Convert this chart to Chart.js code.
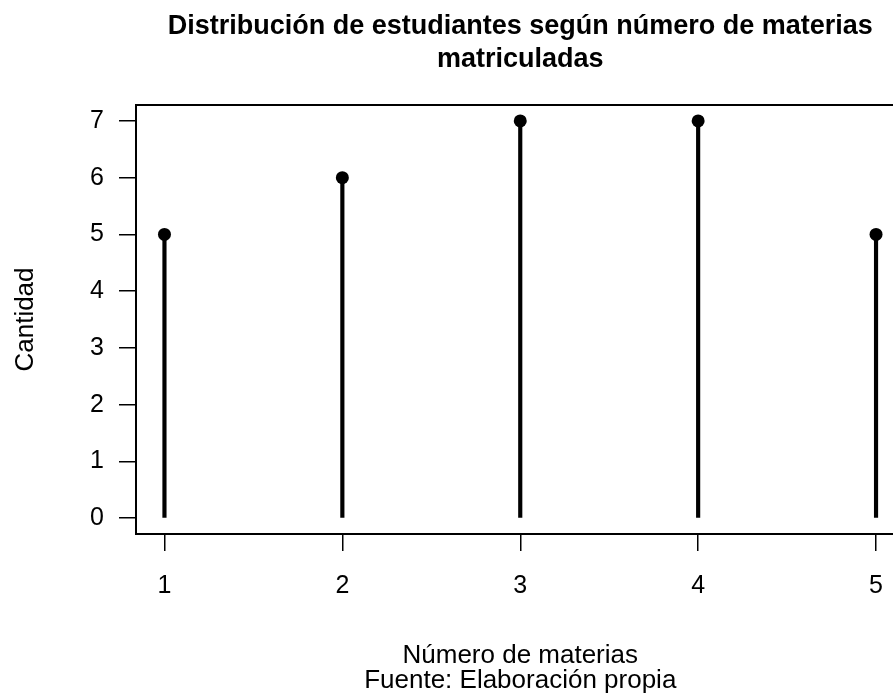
<!DOCTYPE html>
<html><head><meta charset="utf-8">
<script src="https://cdn.jsdelivr.net/npm/chart.js@4/dist/chart.umd.min.js"></script>
<style>
html,body{margin:0;padding:0;overflow:hidden;background:#fff;width:893px;height:693px}
#wrap{position:absolute;left:0;top:0;width:920px;height:693px}
</style></head>
<body><div id="wrap"><canvas id="c" width="920" height="693"></canvas></div>
<script>
const categories = [1, 2, 3, 4, 5];
const counts = [5, 6, 7, 7, 5];
const yTicks = [0, 1, 2, 3, 4, 5, 6, 7];
const xTicks = [1, 2, 3, 4, 5];
const titleLines = ['Distribución de estudiantes según número de materias', 'matriculadas'];
const xLabel = 'Número de materias';
const footer = 'Fuente: Elaboración propia';
const yLabel = 'Cantidad';

const FONT = '"Liberation Sans", Arial, Helvetica, sans-serif';

const textPlugin = {
  id: 'rtext',
  afterDraw(chart) {
    const ctx = chart.ctx, a = chart.chartArea;
    ctx.save();
    ctx.strokeStyle = '#000';
    ctx.lineWidth = 2;
    ctx.strokeRect(a.left, a.top, a.right - a.left, a.bottom - a.top);
    ctx.fillStyle = '#000';
    ctx.textAlign = 'center';
    ctx.textBaseline = 'alphabetic';
    const cx = (a.left + a.right) / 2;
    ctx.font = 'bold 27px ' + FONT;
    ctx.fillText(titleLines[0], cx, 34);
    ctx.fillText(titleLines[1], cx, 67);
    ctx.font = '26px ' + FONT;
    ctx.fillText(xLabel, cx, 663);
    ctx.fillText(footer, cx, 688);
    ctx.translate(33, (a.top + a.bottom) / 2);
    ctx.rotate(-Math.PI / 2);
    ctx.fillText(yLabel, 0, 0);
    ctx.restore();
  }
};

new Chart(document.getElementById('c'), {
  type: 'scatter',
  data: {
    datasets: [
      {
        type: 'bar',
        data: categories.map((c, i) => ({ x: c, y: counts[i] })),
        backgroundColor: '#000',
        borderWidth: 0,
        barThickness: 3.5,
        order: 2
      },
      {
        type: 'scatter',
        data: categories.map((c, i) => ({ x: c, y: counts[i] })),
        backgroundColor: '#000',
        borderWidth: 0,
        pointRadius: 6.5,
        order: 1
      }
    ]
  },
  options: {
    responsive: false,
    devicePixelRatio: 1,
    animation: false,
    layout: { padding: { top: 105, right: 15.5, left: 0, bottom: 0 } },
    plugins: { legend: { display: false }, tooltip: { enabled: false }, title: { display: false } },
    scales: {
      x: {
        type: 'linear',
        min: 0.84, max: 5.16,
        offset: false,
        afterBuildTicks: s => { s.ticks = xTicks.map(v => ({ value: v })); },
        afterFit: s => { s.height = 159; },
        grid: { offset: false, drawOnChartArea: false, drawTicks: true, tickLength: 17, color: '#000', lineWidth: 1.5 },
        border: { display: false },
        ticks: { color: '#000', font: { family: FONT, size: 25 }, padding: 20, maxRotation: 0, autoSkip: false }
      },
      y: {
        type: 'linear',
        min: -0.28, max: 7.28,
        afterBuildTicks: s => { s.ticks = yTicks.map(v => ({ value: v })); },
        afterFit: s => { s.width = 136; },
        grid: { drawOnChartArea: false, drawTicks: true, tickLength: 17, color: '#000', lineWidth: 1.5 },
        border: { display: false },
        ticks: { color: '#000', font: { family: FONT, size: 25 }, padding: 15, autoSkip: false }
      }
    }
  },
  plugins: [textPlugin]
});
</script>
</body></html>
